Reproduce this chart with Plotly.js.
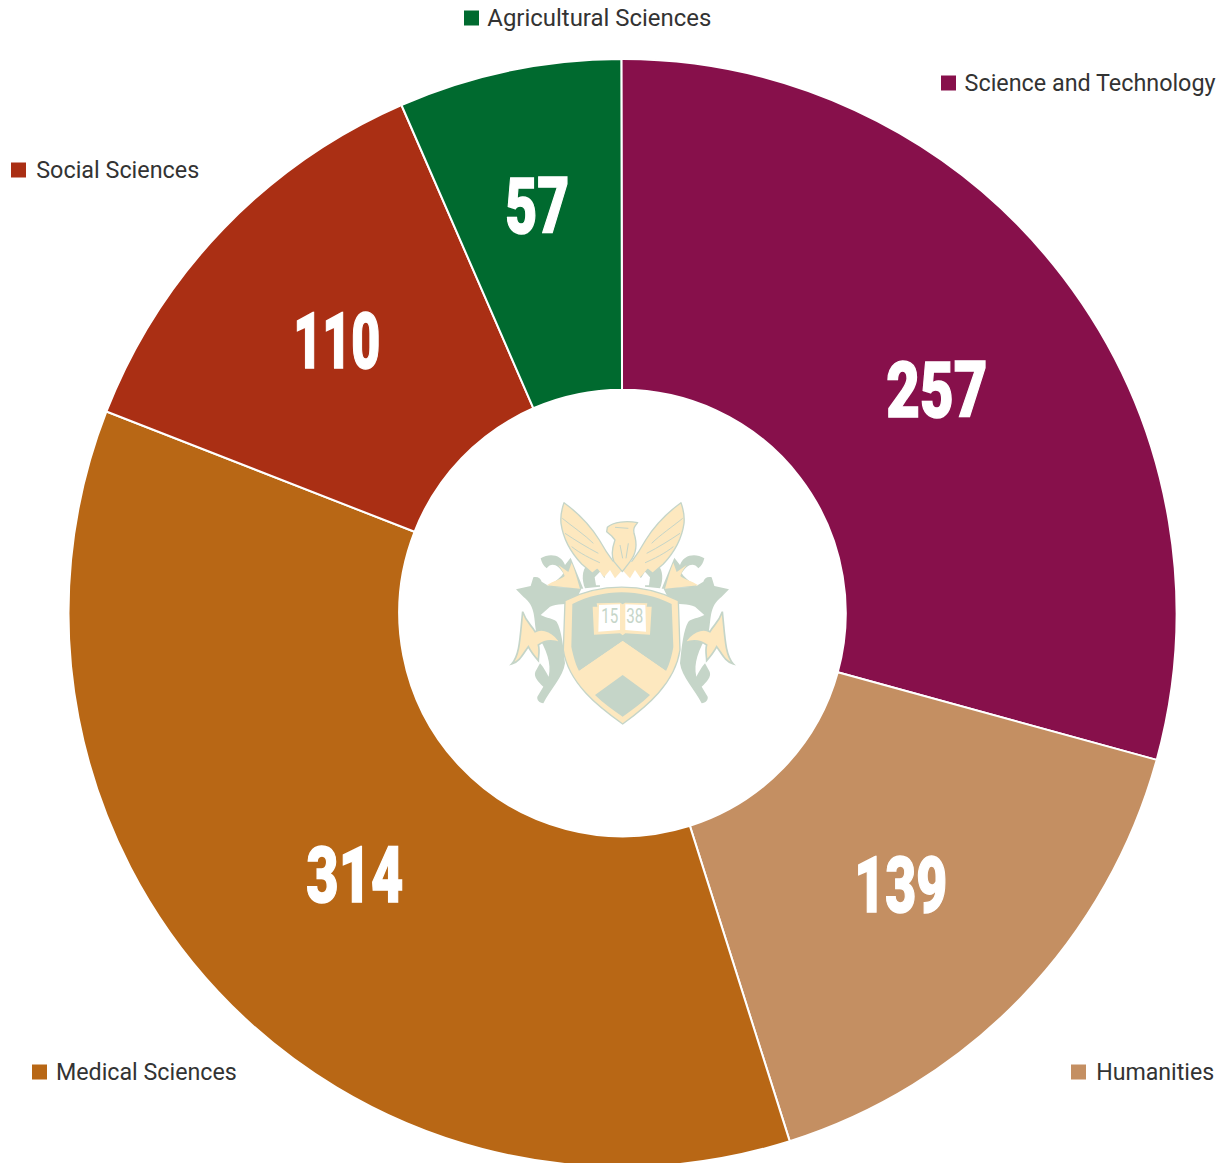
<!DOCTYPE html>
<html>
<head>
<meta charset="utf-8">
<script src="https://cdn.plot.ly/plotly-3.0.1.min.js"></script>
<style>html,body{margin:0;padding:0;background:#fff;overflow:hidden;width:1227px;height:1163px}</style>
</head>
<body>
<div id="chart" style="width:1227px;height:1226px"></div>
<script>
const categories = ["Science and Technology","Humanities","Medical Sciences","Social Sciences","Agricultural Sciences"];
const values = [257,139,314,110,57];
const colors = ["#87104b","#c48f62","#b86715","#aa2f14","#006a2f"];
const labelStart = [965,1096,56,36,487];
const labelWidth = [251,118,181,163,224];
const labelY = [83,1072,1072,170,18];
const squareX = [941,1071,32,11,464];
const valueX = [937,901,355,337,537];
const valueY = [390,885,875,341,206];
const valueWidth = [101,93,97,87,64];
const crestText = ["15","38"];
const crestX = [610,635];
const squareSize = 15;
const W = 1227, H = 1226;
const G = "#c5d5c8", C = "#fde8bf";
const half = `
<path fill="${G}" d="M48 298L92 288L100 262C112 258 122 265 125 275L150 290L245 295L225 335C200 345 170 340 150 350L122 375C140 385 160 385 170 395C185 420 190 470 195 520C190 560 150 600 130 640C118 638 110 630 112 620L130 590C115 575 100 560 106 545L120 520C130 530 140 550 146 560C155 520 140 480 110 430C100 390 110 350 70 320Z"/>
<path fill="${G}" d="M122 205C150 188 185 195 195 225L212 203L250 296L140 290C160 278 178 268 190 250C175 225 155 215 140 235C130 228 125 218 122 205Z"/>
<path fill="${C}" d="M140 286C162 272 182 268 194 258C188 242 180 232 175 225L205 246L215 218C225 240 232 270 240 296Z"/>
<path fill="${C}" stroke="${G}" stroke-width="5" d="M35 522C60 495 60 440 68 365C80 400 95 405 105 425C130 410 165 430 180 458C160 450 135 450 115 465C120 480 115 500 115 512C100 495 90 480 85 470C70 490 60 515 35 522Z"/>
<path fill="${G}" d="M255 295C245 270 245 240 262 225L300 240L300 290Z"/>
<path fill="${C}" stroke="${G}" stroke-width="4" stroke-linejoin="round" d="M192 38C225 62 270 105 298 150C312 175 325 195 340 215L345 240L320 228L312 262L292 238L277 250L245 222C215 190 190 150 183 100C181 80 186 55 192 38Z"/>
<path fill="none" stroke="${G}" stroke-width="3" d="M187 85C215 108 255 135 280 160M195 130C225 150 260 172 295 190M215 170C240 190 270 205 308 222"/>`;
const logo = `<svg xmlns="http://www.w3.org/2000/svg" width="735" height="720" viewBox="0 0 735 720">
${half}<g transform="translate(735,0) scale(-1,1)">${half}</g>
<path fill="${C}" d="M300 215L435 215L438 240L420 262L405 240L390 265L367 240L345 265L330 240L312 262L296 240Z"/>
<path fill="#fff" d="M284 262L300 245L318 272L332 248L345 272L367 250L390 272L403 248L418 272L435 245L450 262L447 286L288 286Z"/>
<path fill="${C}" stroke="${G}" stroke-width="4" stroke-linejoin="round" d="M322 112C340 95 380 92 413 98C405 108 398 115 402 130C412 160 410 190 390 215L367 245L342 215C330 190 340 165 345 150L335 138L320 125Z"/>
<path fill="none" stroke="${G}" stroke-width="3" d="M345 112L385 115M360 165L368 205M385 160L378 205"/>
<path fill="${C}" stroke="${G}" stroke-width="4" d="M195 332C300 278 430 278 535 332L540 480C525 580 440 650 368 702C295 650 205 580 190 480Z"/>
<path fill="${G}" d="M217 342C310 295 420 295 515 342L520 470C517 490 510 520 498 543L368 453L237 543C225 520 218 490 214 470Z"/>
<path fill="${C}" d="M237 543L368 453L498 543C470 600 420 650 368 688C315 650 265 600 237 543Z"/>
<path fill="${G}" d="M368 555L450 615C425 640 395 660 368 680C340 660 310 640 285 615Z"/>
<path fill="${C}" d="M278 350L292 350L290 340L360 338L368 343L376 338L442 340L440 350L455 350L450 434L376 430L368 436L360 430L282 434Z"/>
<path fill="#fff" d="M297 345L360 343L360 420L295 425ZM376 343L436 345L438 425L376 420Z"/>
</svg>`;
const logoUri = "data:image/svg+xml;base64," + btoa(logo);
const px = x => x / W, py = y => 1 - y / H;
const note = (text,x,y,font) => ({text:String(text),xref:"paper",yref:"paper",x:px(x),y:py(y),xanchor:"center",yanchor:"middle",showarrow:false,font});
const annotations = [
  ...categories.map((c,i)=>note(c,labelStart[i]+labelWidth[i]/2,labelY[i],{family:"Roboto,sans-serif",size:24,color:"#333333"})),
  ...values.map((v,i)=>note(v,valueX[i],valueY[i],{family:"Roboto,sans-serif",size:78,color:"#ffffff",weight:900})),
  ...crestText.map((t,i)=>note(t,crestX[i],616,{family:"Roboto,sans-serif",size:21,color:G}))
];
const widths = [...labelWidth,...valueWidth,17,17];
const shapes = categories.map((c,i)=>({
  type:"rect", xref:"paper", yref:"paper", line:{width:0}, fillcolor:colors[i],
  x0:px(squareX[i]), x1:px(squareX[i]+squareSize),
  y0:py(labelY[i]+squareSize/2), y1:py(labelY[i]-squareSize/2)
}));
Plotly.newPlot("chart",[{
  type:"pie", labels:categories, values:values, sort:false, direction:"clockwise", rotation:-0.12,
  hole:0.403, domain:{x:[68.5/W,1176.5/W],y:[1-1167/H,1-59/H]},
  marker:{colors:colors,line:{color:"#ffffff",width:2}},
  textinfo:"none", showlegend:false, hoverinfo:"label+value"
}],{
  width:W,height:H,margin:{l:0,r:0,t:0,b:0},paper_bgcolor:"#fff",showlegend:false,
  annotations:annotations,shapes:shapes,
  images:[{source:logoUri,xref:"paper",yref:"paper",x:px(500),y:py(490),sizex:245/W,sizey:240/H,xanchor:"left",yanchor:"top",sizing:"stretch",layer:"above"}]
},{displayModeBar:false,staticPlot:true}).then(gd=>{
  // The reference face is condensed: narrow the real text to its measured width.
  gd.querySelectorAll(".annotation-text").forEach((el,i)=>{
    el.setAttribute("textLength",widths[i]);
    el.setAttribute("lengthAdjust","spacingAndGlyphs");
    if(i>=categories.length && i<categories.length+values.length){
      el.style.stroke="#ffffff"; el.style.strokeWidth="1.5px";
    }
  });
});
</script>
</body>
</html>
